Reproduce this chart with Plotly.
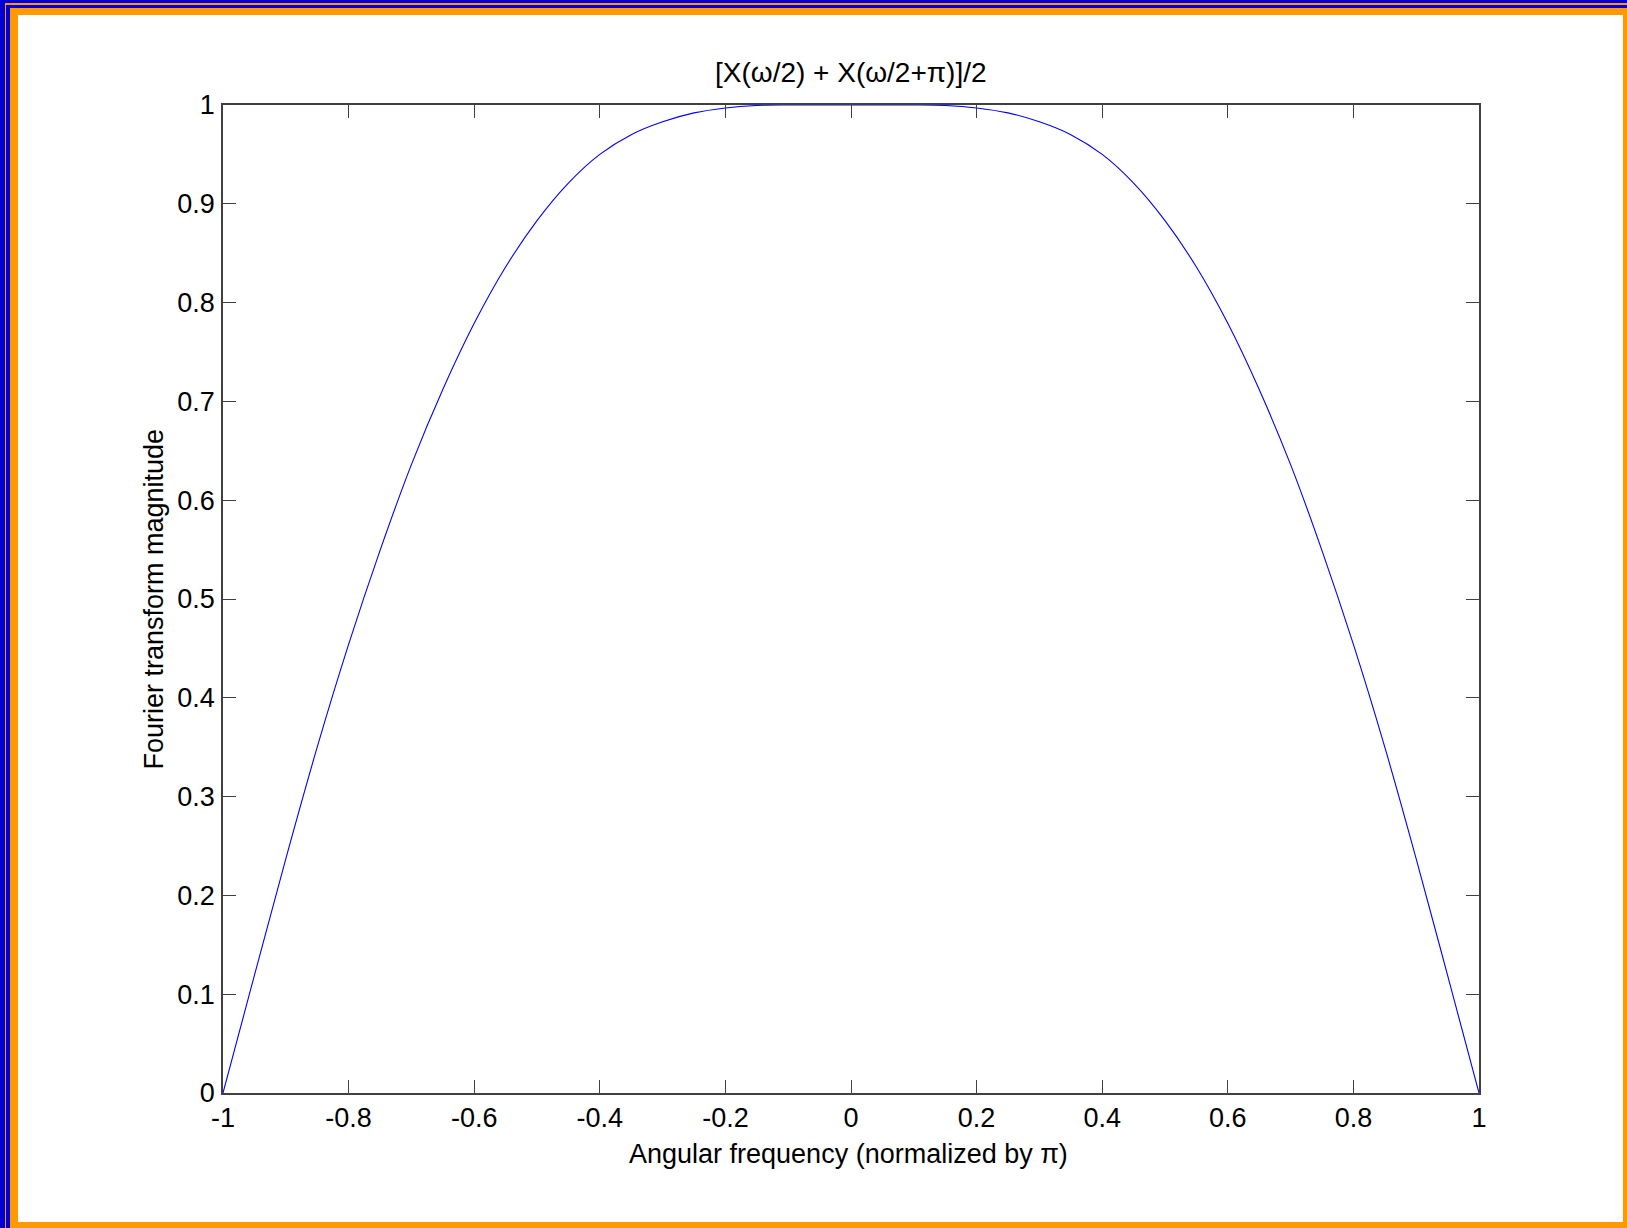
import plotly.graph_objects as go

# ---- data ----
freq = [-1.00, -0.95, -0.90, -0.85, -0.80, -0.75, -0.70, -0.65, -0.60, -0.55,
        -0.50, -0.45, -0.40, -0.35, -0.30, -0.25, -0.20, -0.15, -0.10, -0.05, 0.00,
        0.05, 0.10, 0.15, 0.20, 0.25, 0.30, 0.35, 0.40, 0.45, 0.50,
        0.55, 0.60, 0.65, 0.70, 0.75, 0.80, 0.85, 0.90, 0.95, 1.00]
magnitude = [0.000, 0.119, 0.237, 0.350, 0.454, 0.549, 0.636, 0.712, 0.779, 0.836,
             0.883, 0.921, 0.950, 0.970, 0.983, 0.992, 0.997, 0.9995, 1.000, 1.000, 1.000,
             1.000, 1.000, 0.9995, 0.997, 0.992, 0.983, 0.970, 0.950, 0.921, 0.883,
             0.836, 0.779, 0.712, 0.636, 0.549, 0.454, 0.350, 0.237, 0.119, 0.000]

x_tick_vals = [-1, -0.8, -0.6, -0.4, -0.2, 0, 0.2, 0.4, 0.6, 0.8, 1]
x_tick_text = ["-1", "-0.8", "-0.6", "-0.4", "-0.2", "0", "0.2", "0.4", "0.6", "0.8", "1"]
y_tick_vals = [0, 0.1, 0.2, 0.3, 0.4, 0.5, 0.6, 0.7, 0.8, 0.9, 1]
y_tick_text = ["0", "0.1", "0.2", "0.3", "0.4", "0.5", "0.6", "0.7", "0.8", "0.9", "1"]

title_text = "[X(\u03c9/2) + X(\u03c9/2+\u03c0)]/2"
x_label = "Angular frequency (normalized by \u03c0)"
y_label = "Fourier transform magnitude"

# ---- layout geometry (pixels) ----
W, H = 1627, 1228
L, R, T, B = 223, 1479, 105, 1093
PW, PH = R - L, B - T

def px(x):
    return (x - L) / PW

def py(y):
    return (B - y) / PH

BLUE = "#0000D8"
ORANGE = "#FF9900"
AXC = "#404040"
FONT = "Liberation Sans, Arial, sans-serif"

fig = go.Figure()
fig.add_trace(go.Scatter(x=freq, y=magnitude, mode="lines",
                         line=dict(color="#0000FF", width=1.1, shape="spline", smoothing=1.0),
                         showlegend=False, hoverinfo="skip"))

shapes = []
for (x0, y0, x1, y1, c) in [(5, 3, W, H, ORANGE), (6, 5, W, H, BLUE),
                            (10, 8, W, H, ORANGE), (18, 15, 1623, 1222, "white")]:
    shapes.append(dict(type="rect", xref="paper", yref="paper",
                       x0=px(x0), x1=px(x1), y0=py(y1), y1=py(y0),
                       fillcolor=c, line=dict(width=0), layer="below"))

axis_common = dict(showgrid=False, zeroline=False, ticks="inside", ticklen=13,
                   tickwidth=1, tickcolor=AXC, showline=True, linecolor=AXC,
                   linewidth=1.5, mirror="ticks",
                   tickfont=dict(family=FONT, size=27, color="black"))

fig.update_layout(
    width=W, height=H,
    margin=dict(l=L, r=W - R, t=T, b=H - B, pad=0),
    paper_bgcolor=BLUE, plot_bgcolor="white",
    shapes=shapes,
    xaxis=dict(range=[-1, 1], tickvals=x_tick_vals, ticktext=x_tick_text,
               ticklabelstandoff=0, **axis_common),
    yaxis=dict(range=[0, 1], tickvals=y_tick_vals, ticktext=y_tick_text,
               ticklabelstandoff=1, **axis_common),
    annotations=[
        dict(text=title_text, xref="paper", yref="paper", x=0.5, y=py(73),
             xanchor="center", yanchor="middle", showarrow=False,
             font=dict(family=FONT, size=28, color="black")),
        dict(text=x_label, xref="paper", yref="paper", x=px(818 * 1627 / 1568), y=py(1154),
             xanchor="center", yanchor="middle", showarrow=False,
             font=dict(family=FONT, size=27, color="black")),
        dict(text=y_label, xref="paper", yref="paper", x=px(153.5), y=0.5,
             xanchor="center", yanchor="middle", showarrow=False, textangle=-90,
             font=dict(family=FONT, size=27, color="black")),
    ],
)

fig.write_html("out.html",
               config={"displayModeBar": False},
               post_script="document.body.style.margin='0';"
                           "document.body.style.overflow='hidden';"
                           "document.documentElement.style.overflow='hidden';")
